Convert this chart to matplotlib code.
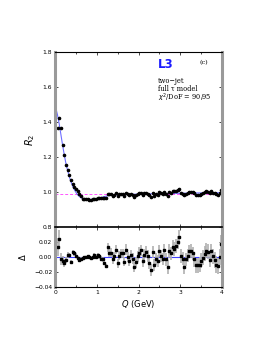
import numpy as np
import matplotlib
matplotlib.use("Agg")
import matplotlib.pyplot as plt

# Q bins (GeV), bin width 0.04
q = np.round(np.arange(0.06, 4.0, 0.04), 2)

# R2 measured
r2 = [1.365, 1.425, 1.365, 1.27, 1.21, 1.155, 1.125, 1.10, 1.07, 1.045,
      1.028, 1.018, 1.005, 0.988, 0.975, 0.962, 0.960, 0.958, 0.958, 0.957,
      0.957, 0.959, 0.963, 0.962, 0.967, 0.966, 0.966, 0.968, 0.966, 0.965,
      0.990, 0.987, 0.988, 0.979, 0.984, 0.993, 0.976, 0.986, 0.990, 0.990,
      0.9785, 0.996, 0.986, 0.981, 0.990, 0.985, 0.9735, 0.981, 0.989, 0.994,
      0.997, 0.984, 0.992, 0.9955, 0.991, 0.9825, 0.973, 0.997, 0.979, 0.987,
      0.9855, 0.999, 0.992, 0.989, 1.000, 0.989, 0.9785, 1.000, 0.997, 1.0055,
      1.004, 1.0075, 1.0125, 1.0195, 0.9945, 0.991, 0.981, 0.991, 0.996, 1.0015,
      1.002, 0.999, 0.992, 0.984, 0.984, 0.985, 0.990, 0.994, 0.9995, 1.0035,
      1.003, 0.9925, 1.004, 0.997, 0.992, 0.986, 0.984, 0.996, 1.014]

# residuals data - fit
delta = [0.0135, 0.024, -0.002, -0.005, -0.008, -0.004, 0.003, 0.003, -0.0065, 0.007,
         0.005, 0.002, -0.001, -0.004, -0.002, -0.0015, -0.0005, 0.0, 0.001, 0.0,
         -0.001, -0.0005, 0.003, 0.0005, 0.003, 0.001, -0.002, -0.003, -0.0075, -0.012,
         0.013, 0.006, 0.006, -0.003, 0.001, 0.010, -0.008, 0.002, 0.005, 0.005,
         -0.0065, 0.010, 0.0, -0.005, 0.003, -0.002, -0.0135, -0.007, 0.001, 0.006,
         0.009, -0.005, 0.003, 0.0065, 0.002, -0.0075, -0.017, 0.007, -0.011, -0.003,
         -0.0055, 0.008, 0.001, -0.002, 0.009, -0.003, -0.0135, 0.008, 0.005, 0.0135,
         0.011, 0.0145, 0.0195, 0.0265, 0.0015, -0.002, -0.013, -0.003, 0.002, 0.0075,
         0.008, 0.005, -0.003, -0.011, -0.011, -0.010, -0.005, -0.001, 0.0045, 0.0085,
         0.007, -0.0035, 0.008, 0.001, -0.004, -0.010, -0.012, 0.0, 0.018]

err = [0.012, 0.012, 0.008, 0.006, 0.005, 0.004, 0.004, 0.003, 0.003, 0.003,
       0.003, 0.003, 0.003, 0.002, 0.002, 0.002, 0.002, 0.002, 0.002, 0.002,
       0.002, 0.002, 0.003, 0.003, 0.003, 0.003, 0.003, 0.003, 0.003, 0.003,
       0.006, 0.006, 0.006, 0.006, 0.006, 0.006, 0.006, 0.006, 0.006, 0.006,
       0.006, 0.007, 0.007, 0.007, 0.007, 0.007, 0.007, 0.007, 0.007, 0.007,
       0.007, 0.008, 0.008, 0.008, 0.008, 0.008, 0.008, 0.008, 0.008, 0.008,
       0.008, 0.008, 0.008, 0.008, 0.009, 0.009, 0.009, 0.009, 0.009, 0.009,
       0.009, 0.009, 0.009, 0.010, 0.009, 0.009, 0.009, 0.009, 0.009, 0.009,
       0.009, 0.009, 0.010, 0.010, 0.010, 0.010, 0.010, 0.010, 0.010, 0.010,
       0.010, 0.010, 0.010, 0.010, 0.011, 0.011, 0.011, 0.011, 0.012]

# fit curve (full tau model)
fit_q = [0.02, 0.06, 0.10, 0.14, 0.18, 0.22, 0.26, 0.30, 0.34, 0.38, 0.42, 0.46,
         0.50, 0.54, 0.58, 0.62, 0.66, 0.70, 0.76, 0.82, 0.90, 1.00, 1.10, 1.20,
         1.30, 1.50, 1.75, 2.00, 2.50, 3.00, 3.50, 4.00]
fit_r2 = [1.48, 1.44, 1.39, 1.33, 1.27, 1.215, 1.165, 1.125, 1.09, 1.06, 1.035, 1.015,
          0.998, 0.985, 0.975, 0.968, 0.963, 0.960, 0.958, 0.957, 0.959, 0.962, 0.968, 0.975,
          0.981, 0.984, 0.986, 0.988, 0.991, 0.993, 0.995, 0.996]

r2_base = 0.987

fig = plt.figure(figsize=(2.66, 3.44), dpi=100)
ax1 = fig.add_axes([0.2068, 0.340, 0.628, 0.5088])
ax2 = fig.add_axes([0.2068, 0.1657, 0.628, 0.1744], sharex=ax1)

grey = "#9a9a9a"
for ax in (ax1, ax2):
    ax.spines["left"].set_color(grey)
    ax.spines["right"].set_color(grey)
    ax.spines["left"].set_linewidth(2.2)
    ax.spines["right"].set_linewidth(2.2)
    ax.spines["top"].set_linewidth(0.8)
    ax.spines["bottom"].set_linewidth(0.8)
    ax.tick_params(direction="in", which="both", top=True, right=True,
                   labelsize=4.3, length=2.5, width=0.5, pad=2)
    ax.tick_params(which="minor", length=1.5)

# top panel
ax1.axhline(r2_base, color="#ff55ff", ls=(0, (3, 2)), lw=0.7)
ax1.plot(fit_q, fit_r2, color="#6f6fff", lw=0.8)
ax1.errorbar(q, r2, yerr=np.array(err) * 0.3, fmt="o", ms=1.6, color="black",
             elinewidth=0.5, capsize=0)
ax1.set_xlim(0, 4)
ax1.set_ylim(0.8, 1.8)
ax1.set_yticks([0.8, 1.0, 1.2, 1.4, 1.6, 1.8])
ax1.set_yticklabels(["0.8", "1.0", "1.2", "1.4", "1.6", "1.8"])
ax1.set_xticks([0, 1, 2, 3, 4])
ax1.set_xticks([0.5, 1.5, 2.5, 3.5], minor=True)
ax1.tick_params(labelbottom=False)
ax1.set_ylabel(r"$R_2$", fontsize=7)
ax1.yaxis.set_label_coords(-0.11, 0.5)

ax1.text(0.615, 0.931, "L3", transform=ax1.transAxes, color="#1a1aff",
         fontsize=8.5, fontweight="bold", family="DejaVu Sans", va="center")
ax1.text(0.865, 0.937, "(c)", transform=ax1.transAxes, fontsize=4.6,
         family="DejaVu Serif", va="center")
ax1.text(0.615, 0.836, "two\u2212jet", transform=ax1.transAxes, fontsize=4.8,
         family="DejaVu Serif", va="center")
ax1.text(0.615, 0.789, "full \u03c4 model", transform=ax1.transAxes, fontsize=4.8,
         family="DejaVu Serif", va="center")
ax1.text(0.615, 0.740, r"$\chi^2$/DoF = 90/95", transform=ax1.transAxes, fontsize=4.8,
         family="DejaVu Serif", va="center")

# bottom panel
ax2.axhline(0, color="#4040ff", lw=0.8)
ax2.errorbar(q, delta, yerr=err, fmt="s", ms=1.6, color="black",
             ecolor="#b0b0b0", elinewidth=1.2, capsize=0)
ax2.set_ylim(-0.04, 0.04)
ax2.set_yticks([-0.04, -0.02, 0.0, 0.02, 0.04])
ax2.set_yticklabels(["\u22120.04", "\u22120.02", "0.00", "0.02", ""])
ax2.spines["top"].set_linewidth(1.2)
ax2.set_xlabel(r"$Q$ (GeV)", fontsize=6, labelpad=2)
ax2.set_ylabel("\u0394", fontsize=6)
ax2.yaxis.set_label_coords(-0.16, 0.5)

fig.savefig("out.png", dpi=100)
